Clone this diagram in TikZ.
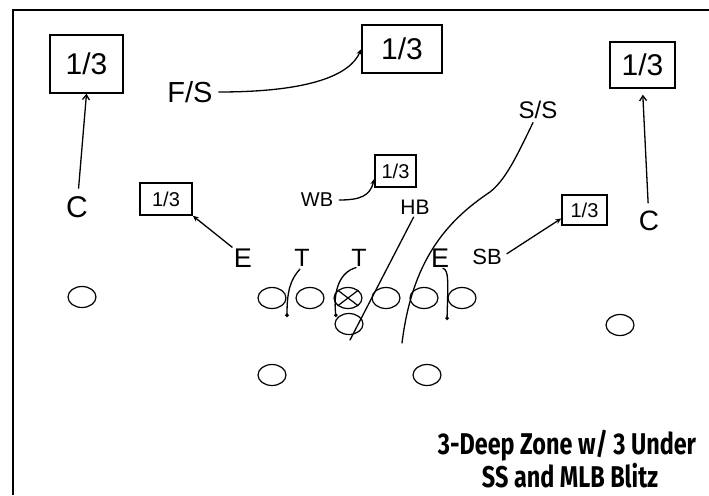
\documentclass[tikz,border=0pt]{standalone}
\usepackage{fontspec}
\setmainfont{Liberation Sans}
\newfontfamily\titlefont{Fira Sans}
\usetikzlibrary{arrows.meta,shapes.geometric}
\begin{document}
\begin{tikzpicture}[x=1pt,y=-1pt,
  hand/.style={line width=1.3pt, line cap=round, line join=round},
  zonebox/.style args={#1/#2}{draw, line width=1.4pt, inner sep=0pt, minimum width=#1, minimum height=#2},
  bigz/.style={font=\fontsize{30}{30}\selectfont},
  smallz/.style={font=\fontsize{20}{20}\selectfont},
  lbl/.style={inner sep=0pt, font=\fontsize{#1}{#1}\selectfont},
  player/.style={draw, ellipse, line width=1.2pt, inner sep=0pt, minimum width=28pt, minimum height=21pt},
  tipA/.style={-{Stealth[length=6pt,width=5pt]}},
  tipB/.style={-{Straight Barb[length=5pt,width=7pt]}},
  blitz/.style={hand, -{Circle[length=3.5pt]}}
]
\useasboundingbox (0,0) rectangle (709,495);
% frame
\draw[line width=2pt] (13,495) -- (13,10) -- (709,10);

% zones
\node[zonebox=73pt/58pt, bigz] (B1) at (86.5,64) {1/3};
\node[zonebox=80pt/48pt, bigz] (B2) at (402,49) {1/3};
\node[zonebox=65pt/46pt, bigz] (B3) at (642.5,65) {1/3};
\node[zonebox=52pt/32pt, smallz] (B4) at (166,199) {1/3};
\node[zonebox=41pt/32pt, smallz] (B5) at (395.5,171) {1/3};
\node[zonebox=45pt/30pt, smallz] (B6) at (584.5,210) {1/3};

% defenders
\node[lbl=29] (FS) at (190,92) {F/S};
\node[lbl=24] (SS) at (538,110) {S/S};
\node[lbl=30] (CL) at (77,207) {C};
\node[lbl=28] (CR) at (649,221) {C};
\node[lbl=20] (WB) at (317,200) {WB};
\node[lbl=21] (HB) at (415,207) {HB};
\node[lbl=22] (SB) at (487,257) {SB};
\node[lbl=27] (EL) at (243,258) {E};
\node[lbl=25] (T1) at (302,258) {T};
\node[lbl=25] (T2) at (359,258) {T};
\node[lbl=27] (ER) at (440,258) {E};

% offense
\node[player] (WRL) at (82,297) {};
\node[player] (OL1) at (272,298) {};
\node[player] (OL2) at (310,298) {};
\node[player] (OC) at (348,298) {};
\node[player] (OL4) at (386,298) {};
\node[player] (OL5) at (424,298) {};
\node[player] (OL6) at (462,298) {};
\node[player] (QB) at (349,324) {};
\node[player] (RB1) at (272,375) {};
\node[player] (RB2) at (427,375) {};
\node[player] (WRR) at (620,325) {};
\draw[line width=1.2pt] (OC.north west) -- (OC.south east) (OC.north east) -- (OC.south west);

% free ends
\coordinate (t1end) at (287,317);
\coordinate (t2end) at (336,317);
\coordinate (erend) at (447,320);
\coordinate (hbend) at (350,340);
\coordinate (ssend) at (402,343);

% routes
\draw[hand, tipB, shorten <=8pt] (CL) -- (B1.south);
\draw[hand, tipB, shorten <=8pt, shorten >=6pt] (CR) -- (B3.south);
\draw[hand, tipA, shorten <=6pt] (FS.east) .. controls (310,92) and (350,75) .. (B2.west);
\draw[hand, tipA, shorten <=6pt] (WB.east) .. controls (360,200) and (370,196) .. (B5.200);
\draw[hand, tipA, shorten <=2pt] (EL.north west) -- (B4.south east);
\draw[hand, tipA, shorten <=6pt] (SB.east) -- (B6.200);

% blitzes and rush lanes
\draw[hand, shorten <=4pt] (SS.250) .. controls (515,160) and (505,180) .. (490,192) .. controls (445,222) and (412,262) .. (ssend);
\draw[hand, shorten <=3pt] (HB.south) -- (hbend);
\draw[blitz, shorten <=3pt] (T1.south) .. controls (290,280) and (287,292) .. (t1end);
\draw[blitz, shorten <=3pt] (T2.south) .. controls (340,272) and (333,290) .. (t2end);
\draw[blitz, shorten <=3pt] (ER.south) .. controls (449,270) and (448,282) .. (erend);

% title
\node[inner sep=0pt, font=\titlefont\bfseries\fontsize{30}{30}\selectfont] (title1) at (567,446) {\scalebox{0.78}[1]{3-Deep Zone w/ 3 Under}};
\node[inner sep=0pt, font=\titlefont\bfseries\fontsize{30}{30}\selectfont] (title2) at (570,476) {\scalebox{0.78}[1]{SS and MLB Blitz}};
\end{tikzpicture}
\end{document}
